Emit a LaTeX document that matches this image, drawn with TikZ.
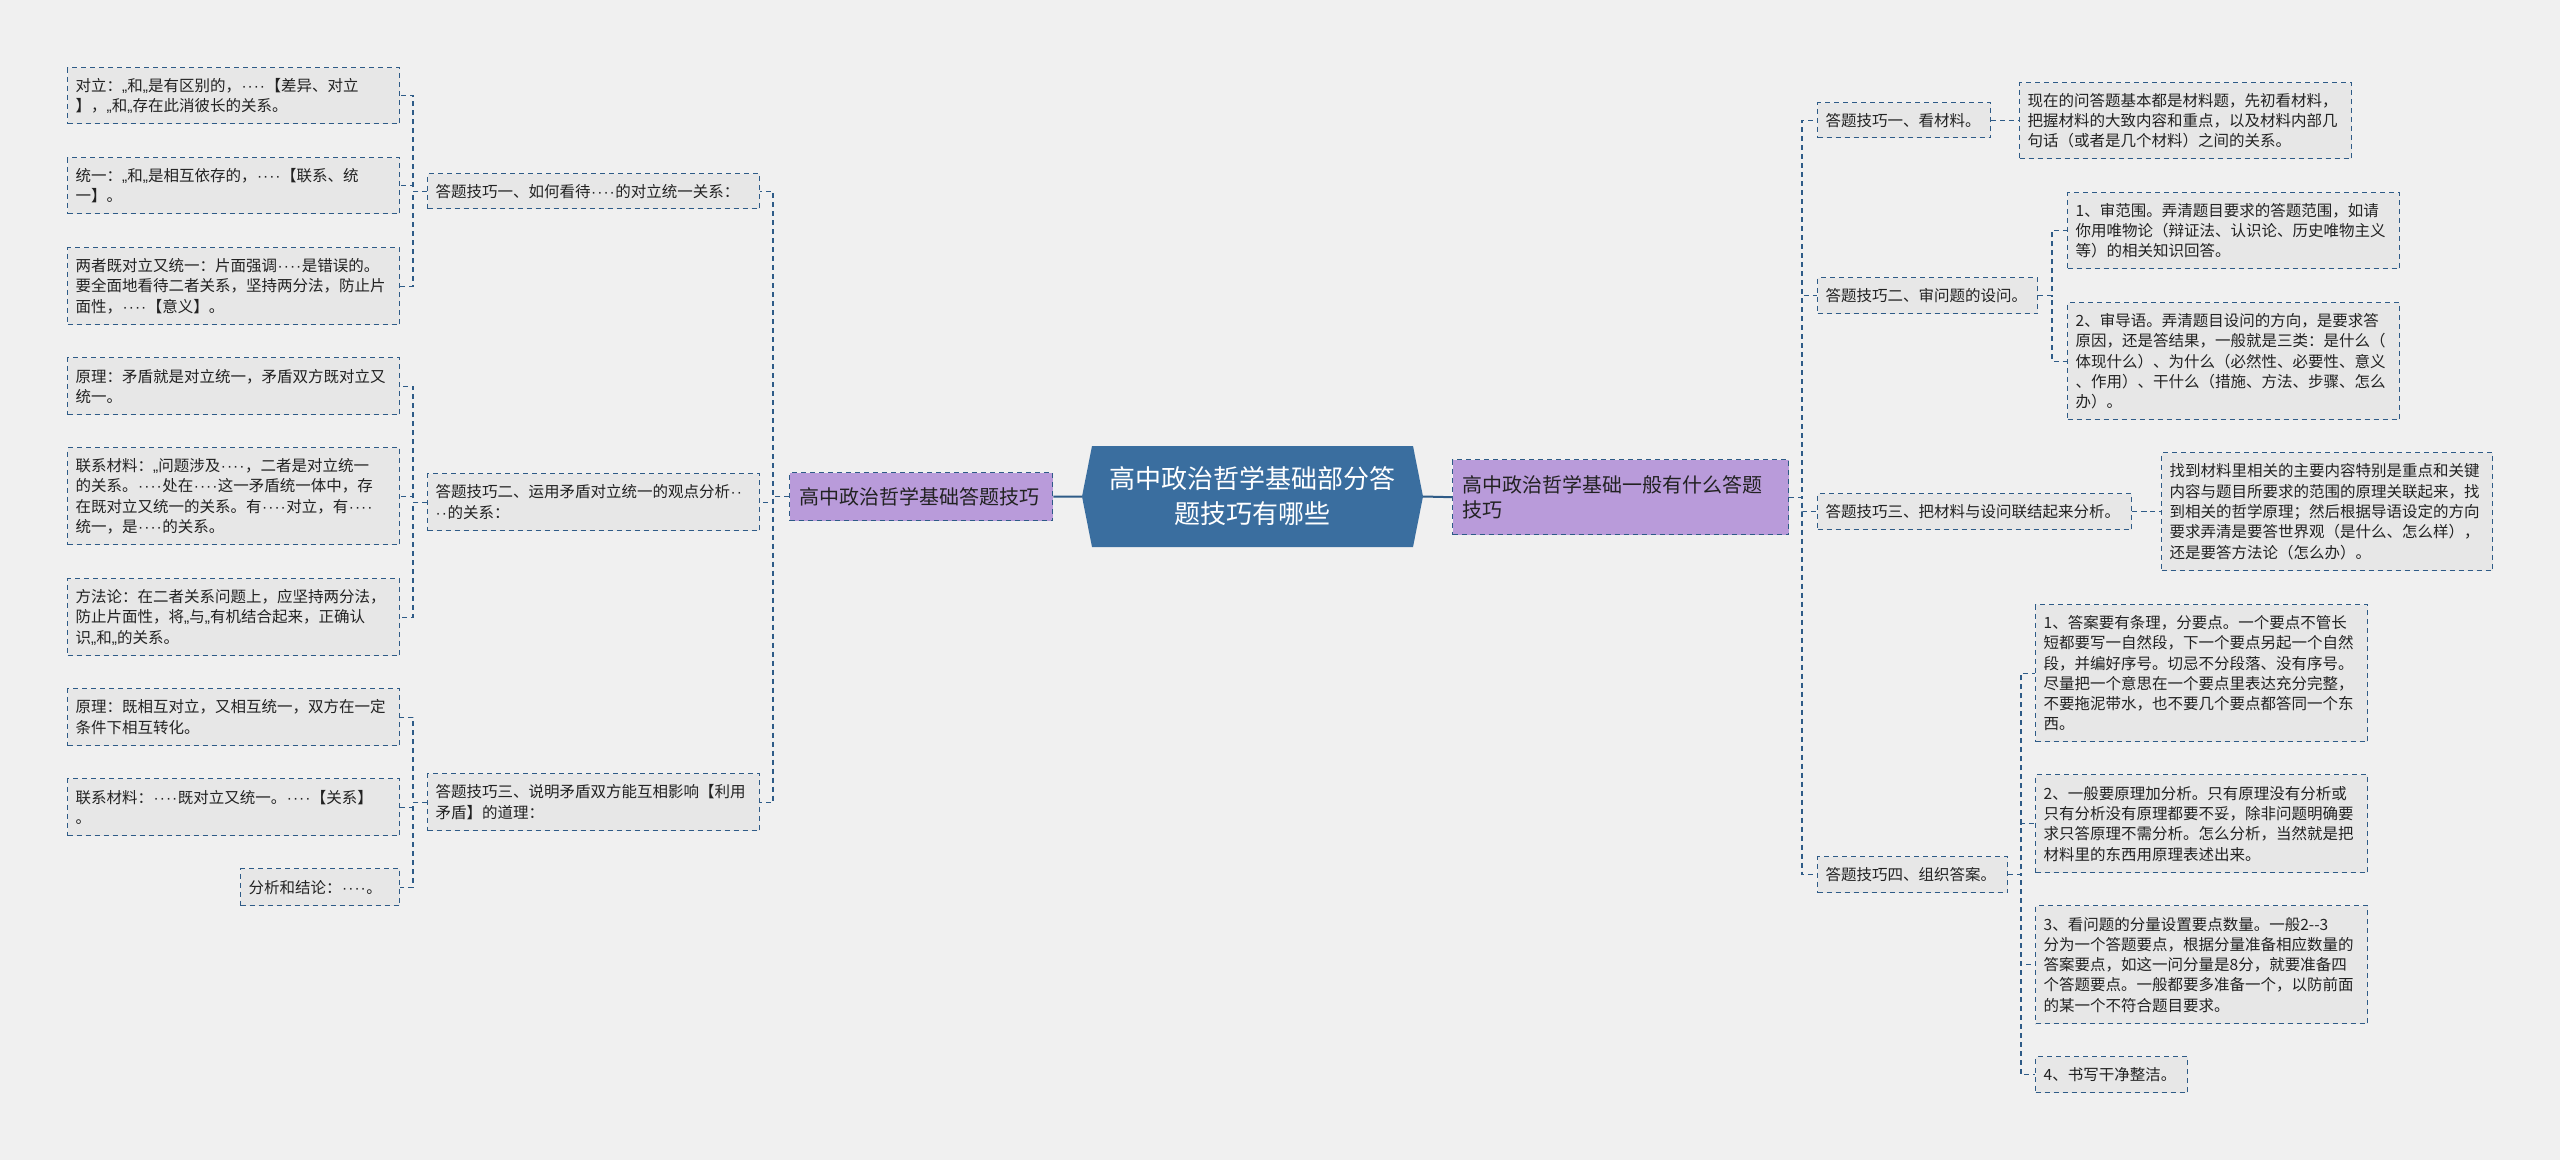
\documentclass[tikz,border=0pt]{standalone}
\usepackage{fontspec}
\setmainfont{Noto Sans CJK SC}
\newfontfamily\dotf{Liberation Sans}
\newcommand{\dtt}{{\dotf\kern0.5pt·\kern1pt·\kern0.5pt}}
\newcommand{\dts}{{\dotf\kern0.5pt·\kern1pt·\kern1pt·\kern1pt·\kern0.5pt}}
\newcommand{\qlow}{{\dotf „}}
\definecolor{bgc}{HTML}{F0F0F0}
\definecolor{bf}{HTML}{E7E7E7}
\definecolor{lc}{HTML}{2E5B87}
\definecolor{tc}{HTML}{222222}
\definecolor{purp}{HTML}{B99BDA}
\definecolor{hexc}{HTML}{3A6E9F}
\tikzset{
  conn/.style={draw=lc, line width=1.4pt, dash pattern=on 5pt off 4pt},
  solidc/.style={draw=lc, line width=2pt},
  box/.style={draw=lc, line width=1.4pt, dash pattern=on 5pt off 4pt, fill=bf,
    anchor=north west, inner xsep=8pt, inner ysep=0pt, align=left, text=tc,
    font=\fontsize{15.5pt}{20.3pt}\selectfont},
  lone/.style={box, fill=purp, inner xsep=10pt, font=\fontsize{20pt}{25pt}\selectfont},
  centerbox/.style={draw=none, inner sep=0pt, minimum width=341pt, minimum height=101pt,
    align=center, text=white, font=\fontsize{26pt}{35pt}\selectfont},
}
\begin{document}
\begin{tikzpicture}[x=1pt,y=-1pt]
\useasboundingbox (0,0) rectangle (2560,1160);
\fill[bgc] (0,0) rectangle (2560,1160);

% center
\fill[hexc] (1082,496.5) -- (1092,446) -- (1413,446) -- (1423,496.5) -- (1413,547) -- (1092,547) -- cycle;
\node[centerbox] (ctr) at (1252.5,496.5) {高中政治哲学基础部分答\\题技巧有哪些};

% level 1
\node[lone, text width=243pt, minimum height=48pt] (L) at (789,472) {高中政治哲学基础答题技巧};
\node[lone, text width=316pt, minimum height=75pt] (R) at (1452,459) {高中政治哲学基础一般有什么答题\\技巧};

% left tips
\node[box, text width=316pt, minimum height=35pt] (t1) at (427,173) {答题技巧一、如何看待\dts 的对立统一关系：};
\node[box, text width=316pt, minimum height=57pt] (t2) at (427,473) {答题技巧二、运用矛盾对立统一的观点分析\dtt\\\dtt 的关系：};
\node[box, text width=316pt, minimum height=57pt] (t3) at (427,773) {答题技巧三、说明矛盾双方能互相影响【利用\\矛盾】的道理：};

% left leaves
\node[box, text width=316pt, minimum height=56pt] (a1) at (67,67) {对立：\qlow 和\qlow 是有区别的，\dts【差异、对立\\】，\qlow 和\qlow 存在此消彼长的关系。};
\node[box, text width=316pt, minimum height=56pt] (a2) at (67,157) {统一：\qlow 和\qlow 是相互依存的，\dts【联系、统\\一】。};
\node[box, text width=316pt, minimum height=77pt] (a3) at (67,247) {两者既对立又统一：片面强调\dts 是错误的。\\要全面地看待二者关系，坚持两分法，防止片\\面性，\dts【意义】。};
\node[box, text width=316pt, minimum height=57pt] (b1) at (67,357) {原理：矛盾就是对立统一，矛盾双方既对立又\\统一。};
\node[box, text width=316pt, minimum height=97pt] (b2) at (67,447) {联系材料：\qlow 问题涉及\dts，二者是对立统一\\的关系。\dts 处在\dts 这一矛盾统一体中，存\\在既对立又统一的关系。有\dts 对立，有\dts\\统一，是\dts 的关系。};
\node[box, text width=316pt, minimum height=77pt] (b3) at (67,578) {方法论：在二者关系问题上，应坚持两分法，\\防止片面性，将\qlow 与\qlow 有机结合起来，正确认\\识\qlow 和\qlow 的关系。};
\node[box, text width=316pt, minimum height=57pt] (c1) at (67,688) {原理：既相互对立，又相互统一，双方在一定\\条件下相互转化。};
\node[box, text width=316pt, minimum height=57pt] (c2) at (67,778) {联系材料：\dts 既对立又统一。\dts【关系】\\。};
\node[box, text width=143pt, minimum height=37pt] (c3) at (240,868) {分析和结论：\dts。};

% right tips
\node[box, text width=157pt, minimum height=35pt] (r1) at (1817,102) {答题技巧一、看材料。};
\node[box, text width=204pt, minimum height=36pt] (r2) at (1817,277) {答题技巧二、审问题的设问。};
\node[box, text width=298pt, minimum height=36pt] (r3) at (1817,493) {答题技巧三、把材料与设问联结起来分析。};
\node[box, text width=174pt, minimum height=36pt] (r4) at (1817,856) {答题技巧四、组织答案。};

% right leaves
\node[box, text width=316pt, minimum height=76pt] (s1) at (2019,82) {现在的问答题基本都是材料题，先初看材料，\\把握材料的大致内容和重点，以及材料内部几\\句话（或者是几个材料）之间的关系。};
\node[box, text width=316pt, minimum height=76pt] (s2a) at (2067,192) {1、审范围。弄清题目要求的答题范围，如请\\你用唯物论（辩证法、认识论、历史唯物主义\\等）的相关知识回答。};
\node[box, text width=316pt, minimum height=117pt] (s2b) at (2067,302) {2、审导语。弄清题目设问的方向，是要求答\\原因，还是答结果，一般就是三类：是什么（\\体现什么）、为什么（必然性、必要性、意义\\、作用）、干什么（措施、方法、步骤、怎么\\办）。};
\node[box, text width=315pt, minimum height=118pt] (s3) at (2161,452) {找到材料里相关的主要内容特别是重点和关键\\内容与题目所要求的范围的原理关联起来，找\\到相关的哲学原理；然后根据导语设定的方向\\要求弄清是要答世界观（是什么、怎么样），\\还是要答方法论（怎么办）。};
\node[box, text width=316pt, minimum height=137pt] (s4a) at (2035,604) {1、答案要有条理，分要点。一个要点不管长\\短都要写一自然段，下一个要点另起一个自然\\段，并编好序号。切忌不分段落、没有序号。\\尽量把一个意思在一个要点里表达充分完整，\\不要拖泥带水，也不要几个要点都答同一个东\\西。};
\node[box, text width=316pt, minimum height=98pt] (s4b) at (2035,774) {2、一般要原理加分析。只有原理没有分析或\\只有分析没有原理都要不妥，除非问题明确要\\求只答原理不需分析。怎么分析，当然就是把\\材料里的东西用原理表述出来。};
\node[box, text width=316pt, minimum height=118pt] (s4c) at (2035,905) {3、看问题的分量设置要点数量。一般2-{}-3\\分为一个答题要点，根据分量准备相应数量的\\答案要点，如这一问分量是8分，就要准备四\\个答题要点。一般都要多准备一个，以防前面\\的某一个不符合题目要求。};
\node[box, text width=136pt, minimum height=36pt] (s4d) at (2035,1056) {4、书写干净整洁。};

% bracket coordinates
\coordinate (bxA) at (413,0);
\coordinate (bxT) at (773,0);
\coordinate (bxR) at (1802,0);
\coordinate (bx1) at (2004,0);
\coordinate (bx2) at (2052,0);
\coordinate (bx3) at (2146,0);
\coordinate (bx4) at (2021,0);

% center links
\draw[solidc] (L.east) -- (ctr.west);
\draw[solidc] (ctr.east) -- (R.west);

% left side
\foreach \t in {t1,t2,t3}
  \draw[conn] (L.west) -- (bxT |- L.west) |- (\t.east);
\foreach \c in {a1,a2,a3}
  \draw[conn] (t1.west) -- (bxA |- t1.west) |- (\c.east);
\foreach \c in {b1,b2,b3}
  \draw[conn] (t2.west) -- (bxA |- t2.west) |- (\c.east);
\foreach \c in {c1,c2,c3}
  \draw[conn] (t3.west) -- (bxA |- t3.west) |- (\c.east);

% right side
\foreach \t in {r1,r2,r3,r4}
  \draw[conn] (R.east) -- (bxR |- R.east) |- (\t.west);
\draw[conn] (r1.east) -- (bx1 |- r1.east) |- (s1.west);
\foreach \c in {s2a,s2b}
  \draw[conn] (r2.east) -- (bx2 |- r2.east) |- (\c.west);
\draw[conn] (r3.east) -- (bx3 |- r3.east) |- (s3.west);
\foreach \c in {s4a,s4b,s4c,s4d}
  \draw[conn] (r4.east) -- (bx4 |- r4.east) |- (\c.west);
\end{tikzpicture}
\end{document}
